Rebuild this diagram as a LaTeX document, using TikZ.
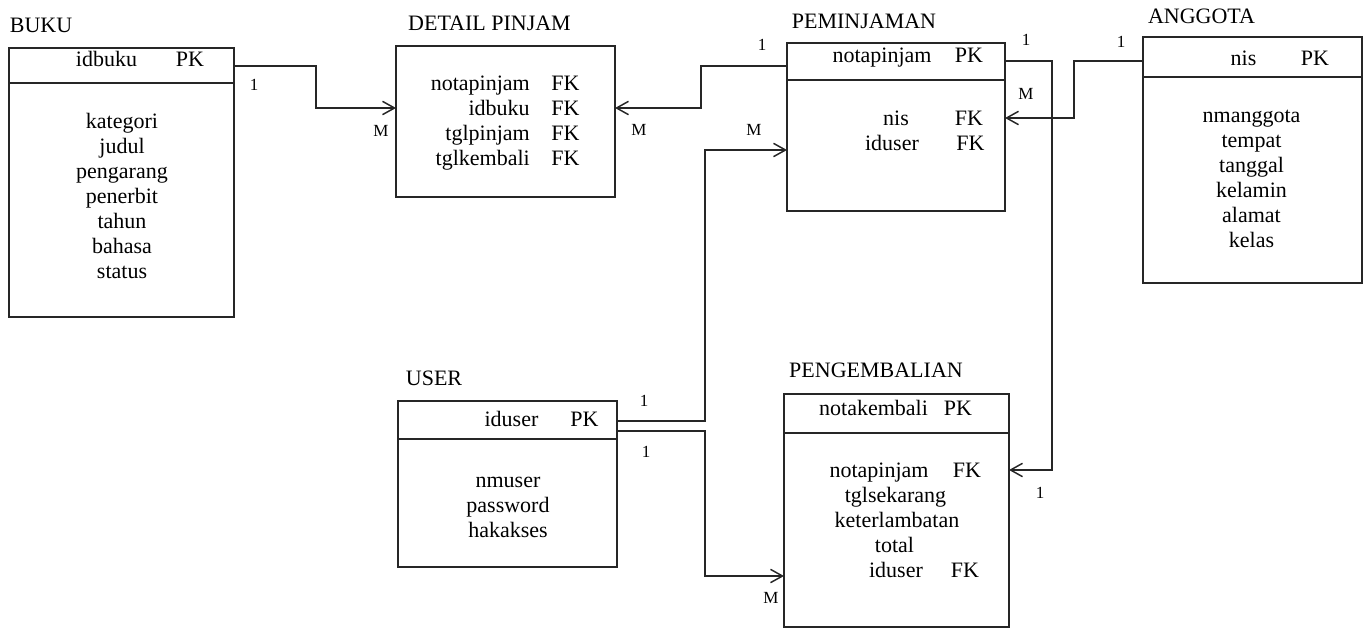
\documentclass[tikz,border=0pt]{standalone}
\usepackage{fontspec}
\setmainfont{Liberation Serif}
\usetikzlibrary{arrows.meta}
\definecolor{linecol}{HTML}{262626}

% draws an entity rectangle from its two corners (in px units)
\newcommand\entitybox[5]{%
  \node[ent, minimum width={(#4-#2)*0.75pt}, minimum height={(#5-#3)*0.75pt}]
    (#1) at ({(#2+#4)/2},{(#3+#5)/2}) {};}
% horizontal rule under the key row of an entity
\newcommand\keyrule[2]{\draw[rule] (#1.west |- 0,#2) -- (#1.east |- 0,#2);}

\begin{document}
\begin{tikzpicture}[x=0.75pt, y=-0.75pt,
  ent/.style={draw=linecol, line width=1.1pt, inner sep=0pt, outer sep=0pt},
  rule/.style={draw=linecol, line width=1.1pt},
  txt/.style={font=\fontsize{16.5}{18}\selectfont, inner sep=0pt, anchor=base},
  card/.style={font=\fontsize{12.75}{14}\selectfont, inner sep=0pt},
  rel/.style={draw=linecol, line width=1.1pt},
  arr/.style={rel, -{Straight Barb[length=9pt, width=10pt]}}]

\useasboundingbox (0,0) rectangle (1367,628);

% ---------- entities ----------
\entitybox{buku}{9}{48}{234}{317}
\entitybox{detail}{396}{46}{615}{197}
\entitybox{pem}{787}{43}{1005}{211}
\entitybox{ang}{1143}{37}{1362}{283}
\entitybox{user}{398}{401}{617}{567}
\entitybox{peng}{784}{394}{1009}{627}

\keyrule{buku}{83}
\keyrule{pem}{80}
\keyrule{ang}{77}
\keyrule{user}{439}
\keyrule{peng}{433}

% ---------- titles ----------
\node[txt] (t-buku)   at (41,32)    {BUKU};
\node[txt] (t-detail) at (489.5,30) {DETAIL PINJAM};
\node[txt] (t-pem)    at (864,28)   {PEMINJAMAN};
\node[txt] (t-ang)    at (1201.5,23){ANGGOTA};
\node[txt] (t-user)   at (434,385)  {USER};
\node[txt] (t-peng)   at (876,377)  {PENGEMBALIAN};

% ---------- key rows ----------
\node[txt] (buku-k)  at (106.5,66) {idbuku};
\node[txt] (buku-pk) at (190,66)   {PK};
\node[txt] (pem-k)   at (882,62)   {notapinjam};
\node[txt] (pem-pk)  at (969,62)   {PK};
\node[txt] (ang-k)   at (1243.5,65){nis};
\node[txt] (ang-pk)  at (1315,65)  {PK};
\node[txt] (user-k)  at (511.5,426){iduser};
\node[txt] (user-pk) at (584.5,426){PK};
\node[txt] (peng-k)  at (873.5,415){notakembali};
\node[txt] (peng-pk) at (958,415)  {PK};

% ---------- attributes ----------
\foreach \t [count=\i from 0] in {kategori,judul,pengarang,penerbit,tahun,bahasa,status}
  \node[txt] (buku-f\i) at (122,{128+25*\i}) {\t};

\foreach \t [count=\i from 0] in {notapinjam,idbuku,tglpinjam,tglkembali}{
  \node[txt, anchor=base east] (detail-f\i) at (530,{90+25*\i}) {\t};
  \node[txt, anchor=base west] (detail-fk\i) at (551,{90+25*\i}) {FK};
}

\node[txt] (pem-f0)  at (896,125)   {nis};
\node[txt] (pem-fk0) at (969,125)   {FK};
\node[txt] (pem-f1)  at (892,150)   {iduser};
\node[txt] (pem-fk1) at (970.5,150) {FK};

\foreach \t [count=\i from 0] in {nmanggota,tempat,tanggal,kelamin,alamat,kelas}
  \node[txt] (ang-f\i) at (1251.5,{122+25*\i}) {\t};

\foreach \t [count=\i from 0] in {nmuser,password,hakakses}
  \node[txt] (user-f\i) at (508,{487+25*\i}) {\t};

\node[txt] (peng-f0)  at (879,477)   {notapinjam};
\node[txt] (peng-fk0) at (967,477)   {FK};
\node[txt] (peng-f1)  at (895.5,502) {tglsekarang};
\node[txt] (peng-f2)  at (897,527)   {keterlambatan};
\node[txt] (peng-f3)  at (894.5,552) {total};
\node[txt] (peng-f4)  at (896,577)   {iduser};
\node[txt] (peng-fk4) at (965,577)   {FK};

% ---------- relationships ----------
\draw[arr] (buku.east |- 0,66) -- (316,66) |- (detail.west |- 0,108);
\draw[arr] (pem.west |- 0,66) -- (701,66) |- (detail.east |- 0,108);
\draw[arr] (user.east |- 0,421) -- (705,421) |- (pem.west |- 0,150);
\draw[arr] (user.east |- 0,431) -- (705,431) |- (peng.west |- 0,576);
\draw[arr] (pem.east |- 0,61) -- (1052,61) |- (peng.east |- 0,470);
\draw[arr] (ang.west |- 0,61) -- (1074,61) |- (pem.east |- 0,118);

% ---------- cardinalities ----------
\node[card] (c1a) at (254,85)   {1};
\node[card] (c1b) at (381,131)  {M};
\node[card] (c2a) at (762,45)   {1};
\node[card] (c2b) at (639,130)  {M};
\node[card] (c3a) at (644,401)  {1};
\node[card] (c3b) at (754,130)  {M};
\node[card] (c4a) at (646,452)  {1};
\node[card] (c4b) at (771,598)  {M};
\node[card] (c5a) at (1026,40)  {1};
\node[card] (c5b) at (1040,493) {1};
\node[card] (c6a) at (1121,42)  {1};
\node[card] (c6b) at (1026,94)  {M};
\end{tikzpicture}
\end{document}
